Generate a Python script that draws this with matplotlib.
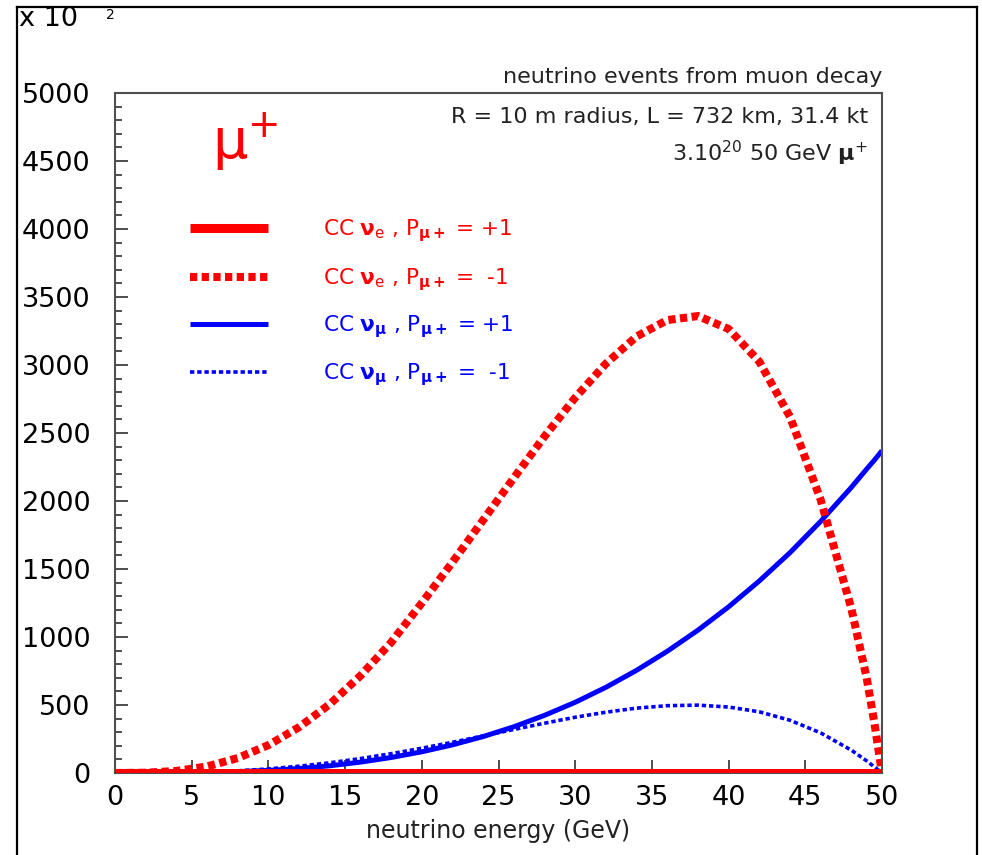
import matplotlib
matplotlib.use("Agg")
import matplotlib.pyplot as plt
from matplotlib.patches import Rectangle
from matplotlib.lines import Line2D
from matplotlib.ticker import MultipleLocator

plt.rcParams['font.family'] = ['DejaVu Sans']
plt.rcParams['mathtext.fontset'] = 'dejavusans'

# ---------------- data (x 10^2 events) ----------------
energy = [0, 2, 4, 6, 8, 10, 12, 14, 16, 18, 20, 22, 24, 26, 28, 30, 32, 34,
          36, 38, 40, 42, 44, 46, 48, 49, 49.5, 50]
cc_nue_pplus = [0] * len(energy)
cc_nue_pminus = [0, 2, 15, 48, 110, 205, 337, 506, 715, 960, 1250, 1550, 1860,
                 2170, 2475, 2760, 3010, 3210, 3330, 3360, 3265, 3025, 2620,
                 2010, 1210, 700, 370, 0]
cc_numu_pplus = [0, 0, 1, 4, 10, 19, 33, 53, 80, 114, 156, 207, 268, 340, 424,
                 520, 630, 755, 895, 1050, 1222, 1412, 1620, 1850, 2100, 2235,
                 2300, 2370]
cc_numu_pminus = [0, 0, 2, 7, 16, 30, 50, 75, 106, 142, 182, 226, 273, 320,
                  366, 410, 447, 477, 495, 499, 485, 450, 388, 295, 168, 89,
                  45, 0]

labels = [r'CC $\mathbf{\nu}_{\mathrm{e}}$ , P$_{\mathbf{\mu +}}$ = +1',
          r'CC $\mathbf{\nu}_{\mathrm{e}}$ , P$_{\mathbf{\mu +}}$ =  -1',
          r'CC $\mathbf{\nu}_{\mathbf{\mu}}$ , P$_{\mathbf{\mu +}}$ = +1',
          r'CC $\mathbf{\nu}_{\mathbf{\mu}}$ , P$_{\mathbf{\mu +}}$ =  -1']

RED = '#ff0000'
BLUE = '#0000ff'
W, H = 982, 855

def fx(x):
    return x / W

def fy(y):
    return 1 - y / H

fig = plt.figure(figsize=(W / 100, H / 100), dpi=100)
ax = fig.add_axes([fx(115), fy(773), (882 - 115) / W, (773 - 93) / H])

styles = [
    dict(color=RED, lw=6.5, ls='-', solid_capstyle='butt', zorder=5),
    dict(color=RED, lw=5.8, ls=(0, (0.9, 0.55)), dash_capstyle='butt', zorder=3),
    dict(color=BLUE, lw=3.6, ls='-', solid_capstyle='butt', zorder=2),
    dict(color=BLUE, lw=2.6, ls=(0, (1.2, 0.8)), dash_capstyle='butt', zorder=4),
]
series = [cc_nue_pplus, cc_nue_pminus, cc_numu_pplus, cc_numu_pminus]

for vals, st in zip(series, styles):
    ax.plot(energy, vals, **st)

ax.set_xlim(0, 50)
ax.set_ylim(0, 5000)
ax.xaxis.set_major_locator(MultipleLocator(5))
ax.yaxis.set_major_locator(MultipleLocator(500))
ax.yaxis.set_minor_locator(MultipleLocator(100))
ax.tick_params(axis='both', which='major', direction='in', length=9.5,
               width=1.3, color='#404040', labelsize=19.5)
ax.tick_params(axis='y', which='minor', direction='in', length=5,
               width=1.3, color='#404040')
ax.tick_params(axis='x', pad=8.5)
ax.tick_params(axis='y', pad=17.5)
for s in ax.spines.values():
    s.set_color('#505050')
    s.set_linewidth(1.5)

ax.set_xlabel('neutrino energy (GeV)', fontsize=17, labelpad=6,
              color='#222222')

# legend drawn manually
leg_y = [0.801, 0.729, 0.660, 0.590]
lab_colors = [RED, RED, BLUE, BLUE]
for yy, st, lab, c in zip(leg_y, styles, labels, lab_colors):
    st2 = dict(st)
    st2.pop('zorder')
    ax.plot([0.0978, 0.1995], [yy, yy], transform=ax.transAxes,
            clip_on=False, **st2)
    ax.text(0.271, yy - 0.004, lab, transform=ax.transAxes, color=c,
            fontsize=15.5, ha='left', va='center')

# big mu+
ax.text(0.127, 0.904, r'$\mathrm{\mu}^{+}$', transform=ax.transAxes,
        color=RED, fontsize=40, ha='left', va='baseline')

# header texts
fig.text(fx(882), fy(77), 'neutrino events from muon decay', fontsize=16,
         ha='right', va='center', color='#222222')
fig.text(fx(868), fy(117), 'R = 10 m radius, L = 732 km, 31.4 kt',
         fontsize=16, ha='right', va='center', color='#222222')
fig.text(fx(868), fy(153), r'3.10$^{20}$ 50 GeV $\mathbf{\mu}^{+}$',
         fontsize=16, ha='right', va='center', color='#222222')

# exponent label (top-left, next to the frame)
fig.text(fx(19), fy(19), 'x 10', fontsize=19.5, ha='left', va='center')
fig.text(fx(106), fy(15), '2', fontsize=10, ha='left', va='center')

# white covers emulating cropping, then outer frame
fig.patches.append(Rectangle((0, 0), fx(17), 1, transform=fig.transFigure,
                             facecolor='white', edgecolor='none', zorder=10))
for xs, ys in [([fx(17), fx(17)], [0, fy(7)]),
               ([fx(17), fx(977)], [fy(7), fy(7)]),
               ([fx(977), fx(977)], [fy(7), 0])]:
    fig.lines.append(Line2D(xs, ys, transform=fig.transFigure, color='black',
                            lw=1.6, zorder=11))

fig.savefig('out.png', dpi=100, facecolor='white')
